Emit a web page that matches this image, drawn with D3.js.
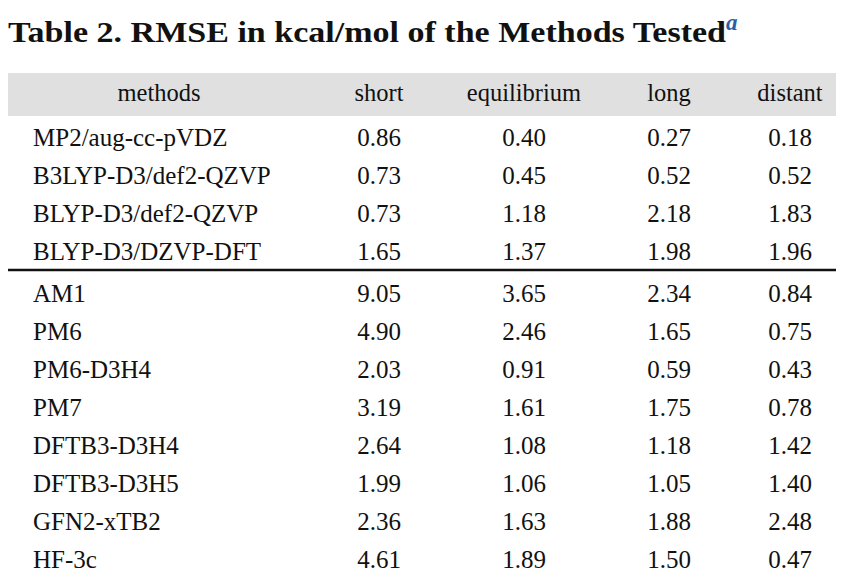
<!DOCTYPE html>
<html><head><meta charset="utf-8">
<script src="https://cdn.jsdelivr.net/npm/d3@7"></script>
<style>body{margin:0;background:#fff} text{font-family:'Liberation Serif','DejaVu Serif',serif}</style></head>
<body><svg id="c" width="841" height="580"></svg>
<script>
const columns = ["methods","short","equilibrium","long","distant"];
const methodsTop = ["MP2/aug-cc-pVDZ","B3LYP-D3/def2-QZVP","BLYP-D3/def2-QZVP","BLYP-D3/DZVP-DFT"];
const valuesTop = [[0.86,0.40,0.27,0.18],[0.73,0.45,0.52,0.52],[0.73,1.18,2.18,1.83],[1.65,1.37,1.98,1.96]];
const methodsBottom = ["AM1","PM6","PM6-D3H4","PM7","DFTB3-D3H4","DFTB3-D3H5","GFN2-xTB2","HF-3c"];
const valuesBottom = [[9.05,3.65,2.34,0.84],[4.90,2.46,1.65,0.75],[2.03,0.91,0.59,0.43],[3.19,1.61,1.75,0.78],[2.64,1.08,1.18,1.42],[1.99,1.06,1.05,1.40],[2.36,1.63,1.88,2.48],[4.61,1.89,1.50,0.47]];

const svg = d3.select("#c");
const title = svg.append("text").attr("x",8).attr("y",42)
  .attr("font-weight","bold").attr("font-size",30).attr("fill","#111");
title.append("tspan").text("Table 2. RMSE in kcal/mol of the Methods Tested")
  .attr("textLength",718).attr("lengthAdjust","spacingAndGlyphs");
title.append("tspan").text("a").attr("dy",-12).attr("font-size",23).attr("font-style","italic").attr("fill","#2a5fa8");

const x = d3.scaleOrdinal().domain(columns).range([159,379,524,669,790]);
svg.append("rect").attr("x",8).attr("y",73).attr("width",828).attr("height",43).attr("fill","#e0e0e0");
svg.selectAll("text.h").data(columns).join("text").attr("class","h")
  .attr("x",d=>x(d)).attr("y",101).attr("text-anchor","middle")
  .attr("font-size",24.5).attr("fill","#111").text(d=>d);

const rows = methodsTop.map((m,i)=>({m,v:valuesTop[i]})).concat(methodsBottom.map((m,i)=>({m,v:valuesBottom[i]})));
const y = d3.scaleLinear().domain([0,1]).range([138,176]);
const ry = i => i<4 ? y(i) : y(i)+4;
const g = svg.selectAll("g.r").data(rows).join("g").attr("class","r")
  .attr("transform",(d,i)=>`translate(0,${ry(i)+8})`)
  .attr("font-size",25).attr("fill","#111");
g.append("text").attr("x",33).text(d=>d.m);
g.selectAll("text.v").data(d=>d.v).join("text").attr("class","v")
  .attr("x",(d,j)=>x(columns[j+1])).attr("text-anchor","middle").text(d=>d.toFixed(2));
svg.append("line").attr("x1",8).attr("x2",836).attr("y1",270).attr("y2",270).attr("stroke","#111").attr("stroke-width",2.5);
</script></body></html>
